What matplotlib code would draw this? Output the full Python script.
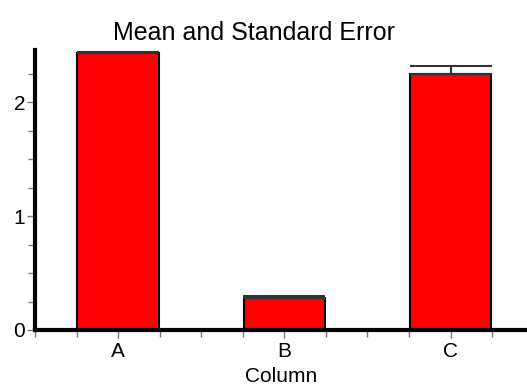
import numpy as np
import matplotlib.pyplot as plt
from matplotlib.ticker import MultipleLocator

categories = ["A", "B", "C"]
means = [2.43, 0.28, 2.25]
sems = [0.01, 0.02, 0.07]

plt.rcParams['font.family'] = ['Liberation Sans', 'DejaVu Sans']

fig = plt.figure(figsize=(5.27, 3.88), dpi=100)
ax = fig.add_axes([0.0664, 0.1495, 0.9336, 0.7216])

x = np.arange(len(categories))
ax.bar(x, means, width=0.49, color="red", edgecolor="black", linewidth=1.5, zorder=2)
ax.errorbar(x, means, yerr=[np.zeros(len(sems)), sems], fmt="none",
            ecolor="#333333", elinewidth=1.5, capsize=29.5, capthick=1.5, zorder=3)

ax.set_xlim(-0.5, 2.46)
ax.set_ylim(0, 2.46)
ax.set_xticks(x)
ax.set_xticklabels(categories)
ax.xaxis.set_minor_locator(MultipleLocator(0.25))
ax.yaxis.set_major_locator(MultipleLocator(1))
ax.yaxis.set_minor_locator(MultipleLocator(0.25))

for s in ["top", "right"]:
    ax.spines[s].set_visible(False)
for s in ["left", "bottom"]:
    ax.spines[s].set_linewidth(3)
    ax.spines[s].set_zorder(4)

ax.tick_params(axis="both", which="major", length=6, width=1, color="#777777",
               labelsize=15, pad=1)
ax.tick_params(axis="x", which="major", pad=3)
ax.tick_params(axis="both", which="minor", length=5, width=1, color="#777777")

ax.set_xlabel("Column", fontsize=15, labelpad=4)
ax.set_title("Mean and Standard Error", fontsize=18, pad=7, x=0.445)

fig.savefig("out.png", dpi=100)
